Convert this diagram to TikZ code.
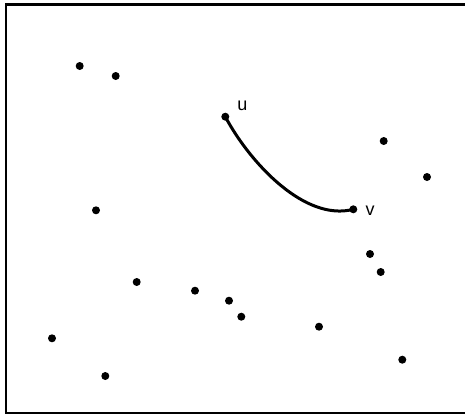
\documentclass[tikz,border=0pt]{standalone}
\usepackage{fontspec}
\setmainfont{Liberation Sans}
\begin{document}
\begin{tikzpicture}[x=1pt,y=-1pt,
  pt/.style={circle,fill=black,inner sep=0pt,minimum size=8pt},
  lbl/.style={font=\fontsize{18}{20}\selectfont,inner sep=0pt},
  frame/.style={draw=black,line width=2.8pt},
  edge/.style={draw=black,line width=3pt}]
\useasboundingbox (0,0) rectangle (465,415);
\clip (0,0) rectangle (465,415);
\draw[frame] (6,4.8) rectangle (470,413);
\node[pt] (p1) at (79.7,66) {};
\node[pt] (p2) at (115.7,76) {};
\node[pt] (u) at (225.3,116.7) {};
\node[pt] (p4) at (383.7,141) {};
\node[pt] (p5) at (427,177) {};
\node[pt] (p6) at (96,210.3) {};
\node[pt] (v) at (353.3,209.3) {};
\node[pt] (p8) at (370,254) {};
\node[pt] (p9) at (380.7,272) {};
\node[pt] (p10) at (136.7,282) {};
\node[pt] (p11) at (195,290.7) {};
\node[pt] (p12) at (229,300.7) {};
\node[pt] (p13) at (241.3,316.7) {};
\node[pt] (p14) at (319,326.7) {};
\node[pt] (p15) at (52,338.3) {};
\node[pt] (p16) at (402.3,359.7) {};
\node[pt] (p17) at (105.3,376) {};
\node[lbl] (lu) at (242.5,106) {u};
\node[lbl] (lv) at (370,211) {v};
\draw[edge] (u.center) .. controls (250,163) and (305,222) .. (v.center);
\end{tikzpicture}
\end{document}
